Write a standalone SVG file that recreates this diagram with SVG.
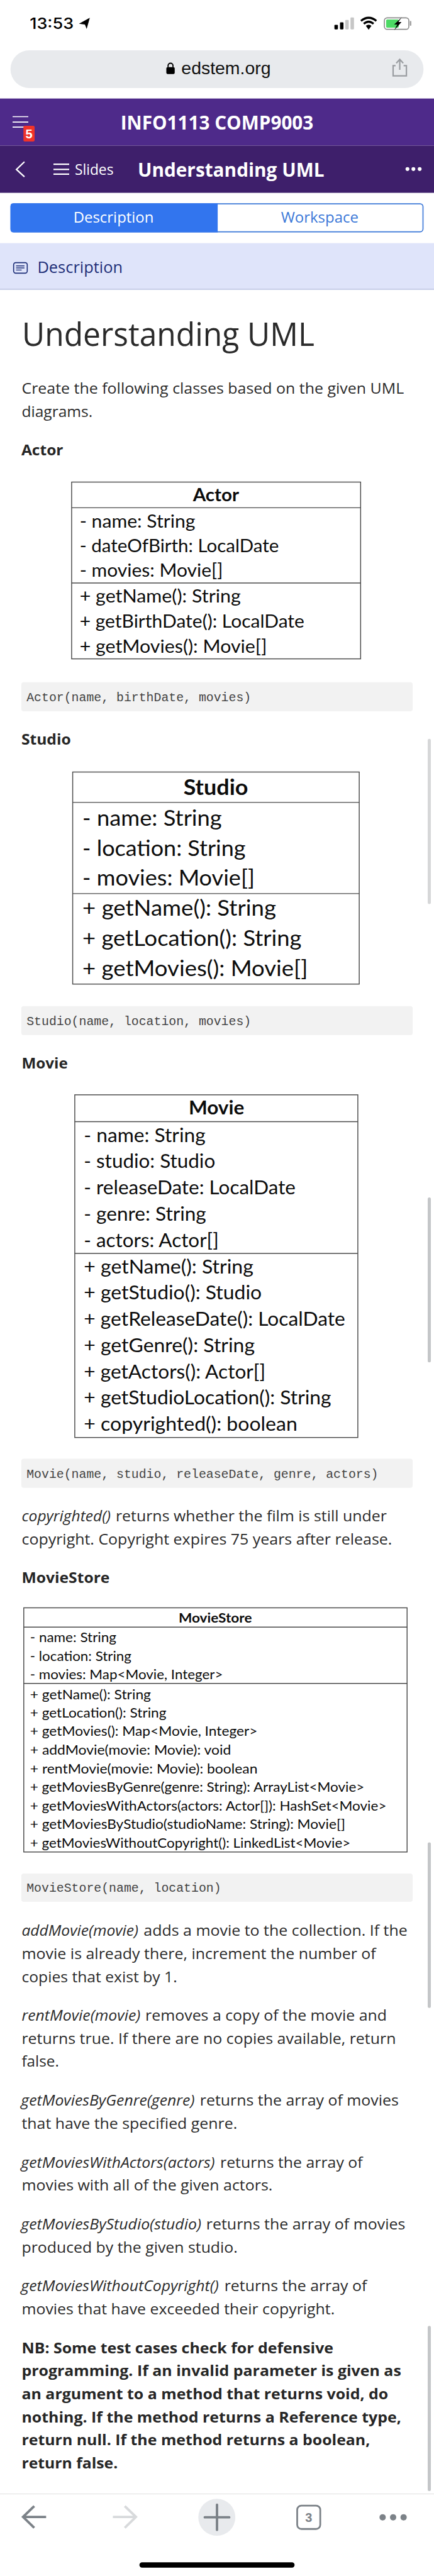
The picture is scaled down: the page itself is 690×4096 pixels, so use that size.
<svg xmlns="http://www.w3.org/2000/svg" width="690" height="4096" viewBox="0 0 690 4096">
<style>
.os{font-family:"Open Sans","Liberation Sans",sans-serif}
.p{font-family:"Open Sans","Liberation Sans",sans-serif;font-size:43px;fill:#2b2b2b}
.i{font-style:italic}
.h{font-family:"Open Sans","Liberation Sans",sans-serif;font-size:43px;font-weight:700;fill:#262626}
.c{font-family:"Liberation Mono",monospace;font-size:35.7px;fill:#444}
.cb{fill:#f2f2f2}
.box{fill:#fff;stroke:#4a4a4a;stroke-width:2.6}
.sep{stroke:#4a4a4a;stroke-width:2.6}
.u{font-family:Lato,"Liberation Sans",sans-serif;fill:#0c0c0c}
.ut{font-family:Lato,"Liberation Sans",sans-serif;font-weight:700;fill:#0c0c0c;text-anchor:start}
.a{font-size:53px}.s{font-size:63px}.m{font-size:55px}.t{font-size:39px}
.sb{fill:#c4c6c8}
.ink{stroke:#fff;stroke-width:4;fill:none}
.tool{fill:none;stroke:#7c8288;stroke-width:7;stroke-linejoin:miter}
</style>
<rect width="690" height="4096" fill="#fff"/>
<g transform="scale(0.55556 0.55546)">
<g id="status-bar">
<text x="85" y="83" font-family="Inter,'Liberation Sans',sans-serif" font-size="44" font-weight="500" fill="#000" textLength="126" lengthAdjust="spacingAndGlyphs">13:53</text>
<path d="M226 68 L257 51 L248 83 L243 70 Z" fill="#000"/>
<rect x="957" y="71" width="10" height="13" rx="2" fill="#000"/>
<rect x="973" y="64" width="10" height="20" rx="2" fill="#000"/>
<rect x="988" y="57" width="10" height="27" rx="2" fill="#c6c6c6"/>
<rect x="1003" y="50" width="10" height="34" rx="2" fill="#c6c6c6"/>
<path d="M1033 60 Q1055 42 1077 60 M1041 68 Q1055 56 1069 68" fill="none" stroke="#000" stroke-width="6"/>
<path d="M1047 74 Q1055 67 1063 74 L1055 85 Z" fill="#000"/>
<rect x="1100" y="51" width="70" height="33" rx="8" fill="#fff" stroke="#8c8c8c" stroke-width="3"/>
<rect x="1105" y="56" width="36" height="23" rx="3" fill="#4cd964"/>
<rect x="1173" y="60" width="4" height="14" rx="2" fill="#9a9a9a"/>
<path d="M1150 49 L1128 70 L1137 70 L1128 87 L1149 63 L1140 63 Z" fill="#000"/>
</g>
<g id="url-bar">
<rect x="30" y="144" width="1182" height="108" rx="54" fill="#e8eaed"/>
<rect x="476" y="192" width="24" height="20" rx="4" fill="#000"/>
<path d="M481 192 V188 A7 7 0 0 1 495 188 V192" fill="none" stroke="#000" stroke-width="3.5"/>
<text x="519" y="212" font-family="'Liberation Sans',sans-serif" font-size="50" fill="#111" textLength="256" lengthAdjust="spacingAndGlyphs">edstem.org</text>
<path d="M1132 188 H1125 V217 H1163 V188 H1155" fill="none" stroke="#9a9da1" stroke-width="4"/>
<path d="M1144 200 V172 M1134 181 L1144 170 L1154 181" fill="none" stroke="#9a9da1" stroke-width="4"/>
</g>
<g id="course-header">
<rect y="282" width="1242" height="135" fill="#4e2a8a"/>
<path d="M36 334 H81 M36 349.5 H81 M36 364 H81" stroke="#fff" stroke-width="3" fill="none"/>
<rect x="67" y="360" width="32" height="45" rx="4" fill="#f0332a"/>
<text x="83" y="396" text-anchor="middle" font-family="'Liberation Sans',sans-serif" font-weight="700" font-size="36" fill="#fff">5</text>
<text class="os" x="345" y="371" font-size="54" font-weight="700" fill="#fff" textLength="552" lengthAdjust="spacingAndGlyphs">INFO1113 COMP9003</text>
</g>
<g id="slide-header">
<rect y="417" width="1242" height="135" fill="#3e1f6b"/>
<path d="M70 463 L47 485 L70 506" class="ink" stroke-width="3"/>
<path d="M153 470 H198 M153 485 H198 M153 498.5 H198" class="ink"/>
<text class="os" x="214" y="500" font-size="43" fill="#fff" textLength="111" lengthAdjust="spacingAndGlyphs">Slides</text>
<text class="os" x="394" y="505" font-size="54" font-weight="700" fill="#fff" textLength="534" lengthAdjust="spacingAndGlyphs">Understanding UML</text>
<circle cx="1166" cy="484" r="5.5" fill="#fff"/><circle cx="1183" cy="484" r="5.5" fill="#fff"/><circle cx="1201" cy="484" r="5.5" fill="#fff"/>
</g>
<g id="tabs">
<rect x="31.5" y="583.5" width="1179" height="80" rx="8" fill="#fff" stroke="#3b78d8" stroke-width="3"/>
<path d="M623 582 H38 Q30 582 30 590 V657 Q30 665 38 665 H623 Z" fill="#3275ee"/>
<text class="os" x="210" y="638" font-size="43" fill="#fff" textLength="230" lengthAdjust="spacingAndGlyphs">Description</text>
<text class="os" x="804" y="638" font-size="43" fill="#3b78d8" textLength="222" lengthAdjust="spacingAndGlyphs">Workspace</text>
</g>
<g id="description-bar">
<rect y="696" width="1242" height="134" fill="#dfe4fa"/>
<rect y="826" width="1242" height="4" fill="#c9d0ea"/>
<rect x="39" y="752" width="39" height="30" rx="6" fill="none" stroke="#1e2f78" stroke-width="3"/>
<path d="M46 761 H70 M46 767 H70 M46 773 H62" stroke="#1e2f78" stroke-width="2.5" fill="none"/>
<text class="os" x="107" y="782" font-size="46" font-weight="400" fill="#1e2f78" textLength="244" lengthAdjust="spacingAndGlyphs">Description</text>
</g>
<g id="intro">
<text class="os" x="63" y="990" font-size="91" font-weight="400" fill="#2a2a2a" textLength="837" lengthAdjust="spacingAndGlyphs">Understanding UML</text>
<text class="p" x="62" y="1126.5" textLength="1094" lengthAdjust="spacingAndGlyphs">Create the following classes based on the given UML</text>
<text class="p" x="62" y="1193" textLength="203" lengthAdjust="spacingAndGlyphs">diagrams.</text>
<text class="h" x="61" y="1304" textLength="120" lengthAdjust="spacingAndGlyphs">Actor</text>
</g>
<g id="class-actor">
<rect class="box" x="205" y="1380" width="827" height="506"/>
<path class="sep" d="M205 1453.5 H1032 M205 1669 H1032"/>
<text class="ut a" x="552" y="1435" textLength="132" lengthAdjust="spacingAndGlyphs">Actor</text>
<text class="u a" x="228" y="1510" textLength="331" lengthAdjust="spacingAndGlyphs">- name: String</text>
<text class="u a" x="228" y="1580.6" textLength="570" lengthAdjust="spacingAndGlyphs">- dateOfBirth: LocalDate</text>
<text class="u a" x="228" y="1651" textLength="410" lengthAdjust="spacingAndGlyphs">- movies: Movie[]</text>
<text class="u a" x="228" y="1724" textLength="461" lengthAdjust="spacingAndGlyphs">+ getName(): String</text>
<text class="u a" x="228" y="1796" textLength="643" lengthAdjust="spacingAndGlyphs">+ getBirthDate(): LocalDate</text>
<text class="u a" x="228" y="1868" textLength="536" lengthAdjust="spacingAndGlyphs">+ getMovies(): Movie[]</text>
</g>
<g id="code-actor">
<rect class="cb" x="61" y="1953" width="1120" height="83" rx="7"/>
<text class="c" x="76" y="2007">Actor(name, birthDate, movies)</text>
</g>
<text class="h" x="61" y="2132" textLength="142" lengthAdjust="spacingAndGlyphs">Studio</text>
<g id="class-studio">
<rect class="box" x="208" y="2210" width="820" height="607"/>
<path class="sep" d="M208 2297 H1028 M208 2558 H1028"/>
<text class="ut s" x="525" y="2276" textLength="185" lengthAdjust="spacingAndGlyphs">Studio</text>
<text class="u s" x="236" y="2364" textLength="399" lengthAdjust="spacingAndGlyphs">- name: String</text>
<text class="u s" x="236" y="2451" textLength="467" lengthAdjust="spacingAndGlyphs">- location: String</text>
<text class="u s" x="236" y="2535" textLength="493" lengthAdjust="spacingAndGlyphs">- movies: Movie[]</text>
<text class="u s" x="236" y="2622" textLength="554" lengthAdjust="spacingAndGlyphs">+ getName(): String</text>
<text class="u s" x="236" y="2708" textLength="627" lengthAdjust="spacingAndGlyphs">+ getLocation(): String</text>
<text class="u s" x="236" y="2794" textLength="645" lengthAdjust="spacingAndGlyphs">+ getMovies(): Movie[]</text>
</g>
<g id="code-studio">
<rect class="cb" x="61" y="2880" width="1120" height="83" rx="7"/>
<text class="c" x="76" y="2934">Studio(name, location, movies)</text>
</g>
<text class="h" x="62" y="3059" textLength="132" lengthAdjust="spacingAndGlyphs">Movie</text>
<g id="class-movie">
<rect class="box" x="214" y="3134" width="810" height="981"/>
<path class="sep" d="M214 3211 H1024 M214 3588 H1024"/>
<text class="ut m" x="540" y="3191" textLength="159" lengthAdjust="spacingAndGlyphs">Movie</text>
<text class="u m" x="240" y="3269" textLength="348" lengthAdjust="spacingAndGlyphs">- name: String</text>
<text class="u m" x="240" y="3344" textLength="376" lengthAdjust="spacingAndGlyphs">- studio: Studio</text>
<text class="u m" x="240" y="3419" textLength="606" lengthAdjust="spacingAndGlyphs">- releaseDate: LocalDate</text>
<text class="u m" x="240" y="3494" textLength="350" lengthAdjust="spacingAndGlyphs">- genre: String</text>
<text class="u m" x="240" y="3570" textLength="386" lengthAdjust="spacingAndGlyphs">- actors: Actor[]</text>
<text class="u m" x="240" y="3645" textLength="485" lengthAdjust="spacingAndGlyphs">+ getName(): String</text>
<text class="u m" x="240" y="3720" textLength="509" lengthAdjust="spacingAndGlyphs">+ getStudio(): Studio</text>
<text class="u m" x="240" y="3795" textLength="748" lengthAdjust="spacingAndGlyphs">+ getReleaseDate(): LocalDate</text>
<text class="u m" x="240" y="3871" textLength="489" lengthAdjust="spacingAndGlyphs">+ getGenre(): String</text>
<text class="u m" x="240" y="3946" textLength="520" lengthAdjust="spacingAndGlyphs">+ getActors(): Actor[]</text>
<text class="u m" x="240" y="4020" textLength="708" lengthAdjust="spacingAndGlyphs">+ getStudioLocation(): String</text>
<text class="u m" x="240" y="4096" textLength="611" lengthAdjust="spacingAndGlyphs">+ copyrighted(): boolean</text>
</g>
<g id="code-movie">
<rect class="cb" x="61" y="4176" width="1120" height="83" rx="7"/>
<text class="c" x="76" y="4230">Movie(name, studio, releaseDate, genre, actors)</text>
</g>
<g id="copyright-note">
<text class="p" y="4355"><tspan class="i" x="62" textLength="255" lengthAdjust="spacingAndGlyphs">copyrighted()</tspan><tspan x="331" textLength="776" lengthAdjust="spacingAndGlyphs">returns whether the film is still under</tspan></text>
<text class="p" x="62" y="4421" textLength="1060" lengthAdjust="spacingAndGlyphs">copyright. Copyright expires 75 years after release.</text>
</g>
<text class="h" x="62" y="4532" textLength="252" lengthAdjust="spacingAndGlyphs">MovieStore</text>
<g id="class-moviestore">
<rect class="box" x="68" y="4602.5" width="1097" height="699"/>
<path class="sep" d="M68 4658 H1165 M68 4819 H1165"/>
<text class="ut t" x="511" y="4645" textLength="210" lengthAdjust="spacingAndGlyphs">MovieStore</text>
<text class="u t" x="86" y="4700" textLength="247" lengthAdjust="spacingAndGlyphs">- name: String</text>
<text class="u t" x="86" y="4754" textLength="290" lengthAdjust="spacingAndGlyphs">- location: String</text>
<text class="u t" x="86" y="4807" textLength="552" lengthAdjust="spacingAndGlyphs">- movies: Map&lt;Movie, Integer&gt;</text>
<text class="u t" x="86" y="4864" textLength="346" lengthAdjust="spacingAndGlyphs">+ getName(): String</text>
<text class="u t" x="86" y="4916" textLength="390" lengthAdjust="spacingAndGlyphs">+ getLocation(): String</text>
<text class="u t" x="86" y="4969" textLength="651" lengthAdjust="spacingAndGlyphs">+ getMovies(): Map&lt;Movie, Integer&gt;</text>
<text class="u t" x="86" y="5022" textLength="575" lengthAdjust="spacingAndGlyphs">+ addMovie(movie: Movie): void</text>
<text class="u t" x="86" y="5076" textLength="651" lengthAdjust="spacingAndGlyphs">+ rentMovie(movie: Movie): boolean</text>
<text class="u t" x="86" y="5129" textLength="957" lengthAdjust="spacingAndGlyphs">+ getMoviesByGenre(genre: String): ArrayList&lt;Movie&gt;</text>
<text class="u t" x="86" y="5183" textLength="1020" lengthAdjust="spacingAndGlyphs">+ getMoviesWithActors(actors: Actor[]): HashSet&lt;Movie&gt;</text>
<text class="u t" x="86" y="5236" textLength="902" lengthAdjust="spacingAndGlyphs">+ getMoviesByStudio(studioName: String): Movie[]</text>
<text class="u t" x="86" y="5289" textLength="917" lengthAdjust="spacingAndGlyphs">+ getMoviesWithoutCopyright(): LinkedList&lt;Movie&gt;</text>
</g>
<g id="code-moviestore">
<rect class="cb" x="61" y="5363" width="1120" height="81" rx="7"/>
<text class="c" x="76" y="5416">MovieStore(name, location)</text>
</g>
<g id="method-notes">
<text class="p" y="5541"><tspan class="i" x="62" textLength="334" lengthAdjust="spacingAndGlyphs">addMovie(movie)</tspan><tspan x="411" textLength="755" lengthAdjust="spacingAndGlyphs">adds a movie to the collection. If the</tspan></text>
<text class="p" x="62" y="5607.5" textLength="1014" lengthAdjust="spacingAndGlyphs">movie is already there, increment the number of</text>
<text class="p" x="62" y="5674" textLength="445" lengthAdjust="spacingAndGlyphs">copies that exist by 1.</text>
<text class="p" y="5785"><tspan class="i" x="62" textLength="340" lengthAdjust="spacingAndGlyphs">rentMovie(movie)</tspan><tspan x="416" textLength="691" lengthAdjust="spacingAndGlyphs">removes a copy of the movie and</tspan></text>
<text class="p" x="62" y="5851" textLength="1071" lengthAdjust="spacingAndGlyphs">returns true. If there are no copies available, return</text>
<text class="p" x="62" y="5916" textLength="107" lengthAdjust="spacingAndGlyphs">false.</text>
<text class="p" y="6027.5"><tspan class="i" x="60" textLength="497" lengthAdjust="spacingAndGlyphs">getMoviesByGenre(genre)</tspan><tspan x="572" textLength="569" lengthAdjust="spacingAndGlyphs">returns the array of movies</tspan></text>
<text class="p" x="62" y="6094" textLength="617" lengthAdjust="spacingAndGlyphs">that have the specified genre.</text>
<text class="p" y="6205"><tspan class="i" x="60" textLength="555" lengthAdjust="spacingAndGlyphs">getMoviesWithActors(actors)</tspan><tspan x="630" textLength="408" lengthAdjust="spacingAndGlyphs">returns the array of</tspan></text>
<text class="p" x="62" y="6271" textLength="718" lengthAdjust="spacingAndGlyphs">movies with all of the given actors.</text>
<text class="p" y="6382"><tspan class="i" x="60" textLength="516" lengthAdjust="spacingAndGlyphs">getMoviesByStudio(studio)</tspan><tspan x="590" textLength="570" lengthAdjust="spacingAndGlyphs">returns the array of movies</tspan></text>
<text class="p" x="62" y="6448" textLength="618" lengthAdjust="spacingAndGlyphs">produced by the given studio.</text>
<text class="p" y="6559"><tspan class="i" x="60" textLength="566" lengthAdjust="spacingAndGlyphs">getMoviesWithoutCopyright()</tspan><tspan x="642" textLength="408" lengthAdjust="spacingAndGlyphs">returns the array of</tspan></text>
<text class="p" x="62" y="6625" textLength="896" lengthAdjust="spacingAndGlyphs">movies that have exceeded their copyright.</text>
</g>
<g id="nb-note">
<text class="h" x="62" y="6736" textLength="892" lengthAdjust="spacingAndGlyphs">NB: Some test cases check for defensive</text>
<text class="h" x="62" y="6802" textLength="1086" lengthAdjust="spacingAndGlyphs">programming. If an invalid parameter is given as</text>
<text class="h" x="62" y="6868" textLength="1049" lengthAdjust="spacingAndGlyphs">an argument to a method that returns void, do</text>
<text class="h" x="62" y="6934" textLength="1086" lengthAdjust="spacingAndGlyphs">nothing. If the method returns a Reference type,</text>
<text class="h" x="62" y="7000" textLength="997" lengthAdjust="spacingAndGlyphs">return null. If the method returns a boolean,</text>
<text class="h" x="62" y="7066" textLength="275" lengthAdjust="spacingAndGlyphs">return false.</text>
</g>
<g id="scrollbars">
<rect class="sb" x="1224" y="2115" width="9" height="473" rx="4.5" opacity=".7"/>
<rect class="sb" x="1224" y="3428" width="9" height="472" rx="4.5"/>
<rect class="sb" x="1224" y="5274" width="9" height="474" rx="4.5"/>
<rect class="sb" x="1224" y="6658" width="9" height="473" rx="4.5"/>
</g>
<g id="toolbar">
<path d="M0 7139 H1242" stroke="#d8d8d8" stroke-width="1.5"/>
<path class="tool" d="M132 7205 H66 M98 7174 L66 7205 L98 7236"/>
<path class="tool" d="M323 7205 H389 M357 7174 L389 7205 L357 7236" style="stroke:#d8dadc"/>
<circle cx="620.5" cy="7206" r="53" fill="#e8eaed"/>
<path class="tool" d="M586 7206 H656 M621 7170 V7242" stroke-linecap="round"/>
<rect class="tool" x="850.5" y="7172.5" width="66" height="67" rx="12" style="stroke-width:5"/>
<text x="883.5" y="7219" text-anchor="middle" font-family="'Liberation Sans',sans-serif" font-size="36" font-weight="700" fill="#7c8288">3</text>
<circle cx="1095" cy="7206" r="9" fill="#7c8288"/><circle cx="1125" cy="7206" r="9" fill="#7c8288"/><circle cx="1155" cy="7206" r="9" fill="#7c8288"/>
<rect x="399" y="7335" width="444" height="15" rx="7.5" fill="#000"/>
</g>
</g>
</svg>
